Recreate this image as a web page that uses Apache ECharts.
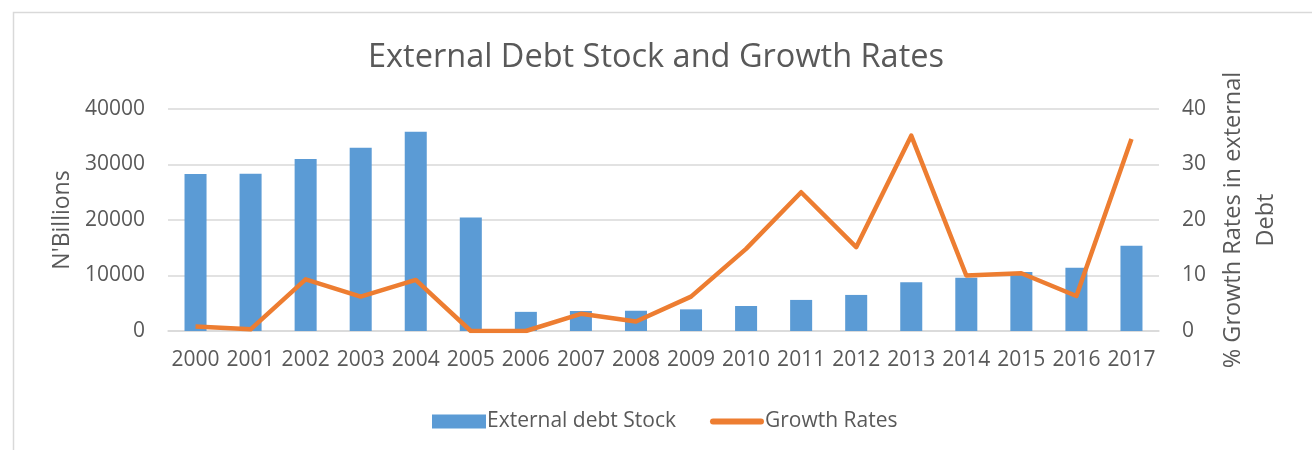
<!DOCTYPE html>
<html>
<head>
<meta charset="utf-8">
<script src="https://cdn.jsdelivr.net/npm/echarts@6/dist/echarts.min.js"></script>
<style>html,body{margin:0;padding:0;background:#fff}#c{width:1312px;height:450px}</style>
</head>
<body>
<div id="c"></div>
<script>
const years = ['2000','2001','2002','2003','2004','2005','2006','2007','2008','2009','2010','2011','2012','2013','2014','2015','2016','2017'];
const debtStock = [28300, 28350, 31000, 33000, 35900, 20450, 3450, 3600, 3650, 3900, 4500, 5600, 6500, 8800, 9600, 10650, 11400, 15350];
const growthRates = [0.8, 0.3, 9.3, 6.2, 9.2, 0, 0, 3.1, 1.7, 6.2, 14.8, 25.0, 15.1, 35.2, 10.0, 10.4, 6.3, 34.6];
const leftTicks = {min: 0, max: 40000, interval: 10000};
const rightTicks = {min: 0, max: 40, interval: 10};

const FONT = '"Open Sans", sans-serif';
const TXT = '#595959';
const chart = echarts.init(document.getElementById('c'), null, {renderer: 'canvas'});
chart.setOption({
  animation: false,
  backgroundColor: '#fff',
  graphic: [{
    type: 'rect', left: 11, top: 10, silent: true,
    shape: {x: 0, y: 0, width: 1400, height: 500},
    style: {fill: 'none', stroke: '#d9d9d9', lineWidth: 1.5}
  }],
  title: {
    text: 'External Debt Stock and Growth Rates',
    left: 'center', top: 36,
    textStyle: {fontFamily: FONT, fontSize: 32.5, fontWeight: 'normal', color: TXT}
  },
  legend: {
    left: 427, top: 406, itemWidth: 54, itemHeight: 14, itemGap: 34,
    textStyle: {fontFamily: FONT, fontSize: 21, color: TXT, padding: [0, 0, 0, -4]},
    data: [
      {name: 'External debt Stock', icon: 'rect'},
      {name: 'Growth Rates', icon: 'path://M3,0 L51,0 A3,3 0 0 1 51,6 L3,6 A3,3 0 0 1 3,0 Z', itemStyle: {color: '#ed7d31'}}
    ]
  },
  grid: {left: 168, right: 153, top: 109, bottom: 119, containLabel: false},
  xAxis: {
    type: 'category', data: years,
    axisLine: {lineStyle: {color: '#d9d9d9', width: 1.5}},
    axisTick: {show: false},
    axisLabel: {interval: 0, margin: 19, fontFamily: FONT, fontSize: 21, color: TXT}
  },
  yAxis: [{
    type: 'value', min: leftTicks.min, max: leftTicks.max, interval: leftTicks.interval,
    name: "N'Billions", nameLocation: 'middle', nameGap: 92,
    nameTextStyle: {fontFamily: FONT, fontSize: 23, color: TXT},
    axisLine: {show: false}, axisTick: {show: false},
    axisLabel: {margin: 23, fontFamily: FONT, fontSize: 21, color: TXT, formatter: v => String(v)},
    splitLine: {lineStyle: {color: '#d9d9d9', width: 1.5}}
  }, {
    type: 'value', min: rightTicks.min, max: rightTicks.max, interval: rightTicks.interval,
    name: '% Growth Rates in external\nDebt', nameLocation: 'middle', nameGap: 58,
    nameRotate: 90,
    nameTextStyle: {fontFamily: FONT, fontSize: 23.5, color: TXT, lineHeight: 33, align: 'center'},
    axisLine: {show: false}, axisTick: {show: false},
    axisLabel: {margin: 23, fontFamily: FONT, fontSize: 21, color: TXT},
    splitLine: {show: false}
  }],
  series: [{
    name: 'External debt Stock', type: 'bar', data: debtStock,
    barWidth: '40%', itemStyle: {color: '#5b9bd5'}
  }, {
    name: 'Growth Rates', type: 'line', yAxisIndex: 1, data: growthRates,
    symbol: 'none', lineStyle: {color: '#ed7d31', width: 4.5, join: 'round'},
    itemStyle: {color: '#ed7d31'}
  }]
});
</script>
</body>
</html>
